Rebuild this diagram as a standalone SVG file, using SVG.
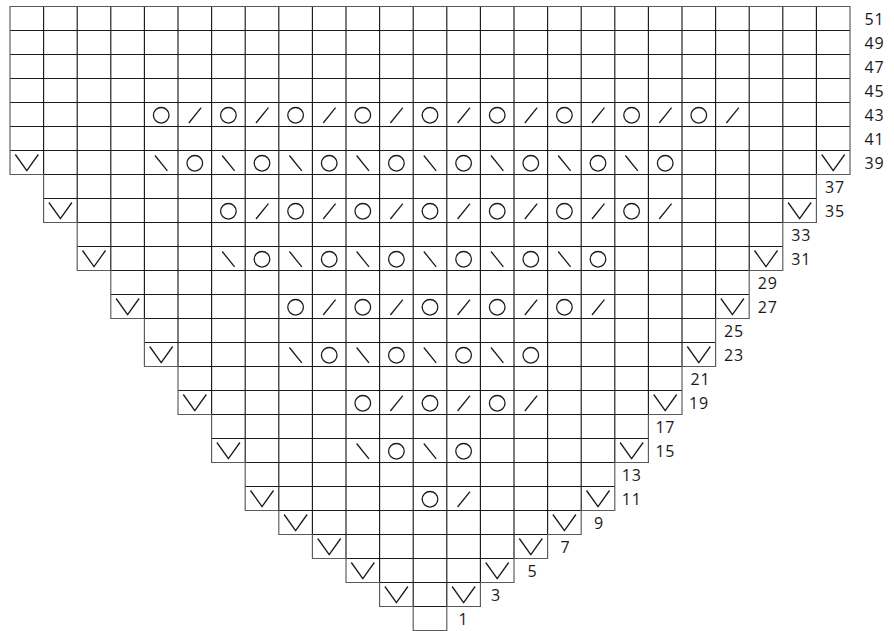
<svg xmlns="http://www.w3.org/2000/svg" width="894" height="631" viewBox="0 0 894 631">
<style>
.inner{fill:none;stroke:#1a1a1a;stroke-width:1.15}
.outer{fill:none;stroke:#5a5a5a;stroke-width:1.15}
.sym{fill:none;stroke:#1a1a1a;stroke-width:1.3}
.lbl{font-family:"Open Sans","Noto Sans",sans-serif;font-size:16px;fill:#1a1a1a;letter-spacing:0.8px}
.c{text-anchor:middle}
</style>
<defs>
<path id="V" class="sym" d="M-11.5 -8 L0 8.2 L11.5 -8"/>
<circle id="O" class="sym" cx="0" cy="0.8" r="7.8"/>
<path id="R" class="sym" d="M-6 8.5 L6.4 -6.8"/>
<path id="L" class="sym" d="M-6.2 -7 L6.2 8.3"/>
</defs>
<rect x="0" y="0" width="894" height="631" fill="#fff"/>
<g id="grid">
<path class="inner" d="M43.6 6.5V174.5M77.2 6.5V222.5M110.8 6.5V270.5M144.4 6.5V318.5M178 6.5V366.5M211.6 6.5V414.5M245.2 6.5V462.5M278.8 6.5V510.5M312.4 6.5V534.5M346 6.5V558.5M379.6 6.5V582.5M413.2 6.5V606.5M446.8 6.5V606.5M480.4 6.5V582.5M514 6.5V558.5M547.6 6.5V534.5M581.2 6.5V510.5M614.8 6.5V462.5M648.4 6.5V414.5M682 6.5V366.5M715.6 6.5V318.5M749.2 6.5V270.5M782.8 6.5V222.5M816.4 6.5V174.5"/>
<path class="inner" d="M10 30.5H850M10 54.5H850M10 78.5H850M10 102.5H850M10 126.5H850M10 150.5H850M43.6 174.5H816.4M43.6 198.5H816.4M77.2 222.5H782.8M77.2 246.5H782.8M110.8 270.5H749.2M110.8 294.5H749.2M144.4 318.5H715.6M144.4 342.5H715.6M178 366.5H682M178 390.5H682M211.6 414.5H648.4M211.6 438.5H648.4M245.2 462.5H614.8M245.2 486.5H614.8M278.8 510.5H581.2M312.4 534.5H547.6M346 558.5H514M379.6 582.5H480.4M413.2 606.5H446.8"/>
<path class="outer" d="M10 6.5H850V174.5H816.4V222.5H782.8V270.5H749.2V318.5H715.6V366.5H682V414.5H648.4V462.5H614.8V510.5H581.2V534.5H547.6V558.5H514V582.5H480.4V606.5H446.8V630.5H413.2V606.5H379.6V582.5H346V558.5H312.4V534.5H278.8V510.5H245.2V462.5H211.6V414.5H178V366.5H144.4V318.5H110.8V270.5H77.2V222.5H43.6V174.5H10Z"/>
</g>
<g id="row43" transform="translate(0 114.5)">
<use href="#O" x="161.2"/><use href="#R" x="194.8"/><use href="#O" x="228.4"/><use href="#R" x="262"/><use href="#O" x="295.6"/><use href="#R" x="329.2"/><use href="#O" x="362.8"/><use href="#R" x="396.4"/><use href="#O" x="430"/><use href="#R" x="463.6"/><use href="#O" x="497.2"/><use href="#R" x="530.8"/><use href="#O" x="564.4"/><use href="#R" x="598"/><use href="#O" x="631.6"/><use href="#R" x="665.2"/><use href="#O" x="698.8"/><use href="#R" x="732.4"/>
</g>
<g id="row39" transform="translate(0 162.5)">
<use href="#V" x="26.8"/><use href="#L" x="161.2"/><use href="#O" x="194.8"/><use href="#L" x="228.4"/><use href="#O" x="262"/><use href="#L" x="295.6"/><use href="#O" x="329.2"/><use href="#L" x="362.8"/><use href="#O" x="396.4"/><use href="#L" x="430"/><use href="#O" x="463.6"/><use href="#L" x="497.2"/><use href="#O" x="530.8"/><use href="#L" x="564.4"/><use href="#O" x="598"/><use href="#L" x="631.6"/><use href="#O" x="665.2"/><use href="#V" x="833.2"/>
</g>
<g id="row35" transform="translate(0 210.5)">
<use href="#V" x="60.4"/><use href="#O" x="228.4"/><use href="#R" x="262"/><use href="#O" x="295.6"/><use href="#R" x="329.2"/><use href="#O" x="362.8"/><use href="#R" x="396.4"/><use href="#O" x="430"/><use href="#R" x="463.6"/><use href="#O" x="497.2"/><use href="#R" x="530.8"/><use href="#O" x="564.4"/><use href="#R" x="598"/><use href="#O" x="631.6"/><use href="#R" x="665.2"/><use href="#V" x="799.6"/>
</g>
<g id="row31" transform="translate(0 258.5)">
<use href="#V" x="94"/><use href="#L" x="228.4"/><use href="#O" x="262"/><use href="#L" x="295.6"/><use href="#O" x="329.2"/><use href="#L" x="362.8"/><use href="#O" x="396.4"/><use href="#L" x="430"/><use href="#O" x="463.6"/><use href="#L" x="497.2"/><use href="#O" x="530.8"/><use href="#L" x="564.4"/><use href="#O" x="598"/><use href="#V" x="766"/>
</g>
<g id="row27" transform="translate(0 306.5)">
<use href="#V" x="127.6"/><use href="#O" x="295.6"/><use href="#R" x="329.2"/><use href="#O" x="362.8"/><use href="#R" x="396.4"/><use href="#O" x="430"/><use href="#R" x="463.6"/><use href="#O" x="497.2"/><use href="#R" x="530.8"/><use href="#O" x="564.4"/><use href="#R" x="598"/><use href="#V" x="732.4"/>
</g>
<g id="row23" transform="translate(0 354.5)">
<use href="#V" x="161.2"/><use href="#L" x="295.6"/><use href="#O" x="329.2"/><use href="#L" x="362.8"/><use href="#O" x="396.4"/><use href="#L" x="430"/><use href="#O" x="463.6"/><use href="#L" x="497.2"/><use href="#O" x="530.8"/><use href="#V" x="698.8"/>
</g>
<g id="row19" transform="translate(0 402.5)">
<use href="#V" x="194.8"/><use href="#O" x="362.8"/><use href="#R" x="396.4"/><use href="#O" x="430"/><use href="#R" x="463.6"/><use href="#O" x="497.2"/><use href="#R" x="530.8"/><use href="#V" x="665.2"/>
</g>
<g id="row15" transform="translate(0 450.5)">
<use href="#V" x="228.4"/><use href="#L" x="362.8"/><use href="#O" x="396.4"/><use href="#L" x="430"/><use href="#O" x="463.6"/><use href="#V" x="631.6"/>
</g>
<g id="row11" transform="translate(0 498.5)">
<use href="#V" x="262"/><use href="#O" x="430"/><use href="#R" x="463.6"/><use href="#V" x="598"/>
</g>
<g id="row9" transform="translate(0 522.5)"><use href="#V" x="295.6"/><use href="#V" x="564.4"/></g>
<g id="row7" transform="translate(0 546.5)"><use href="#V" x="329.2"/><use href="#V" x="530.8"/></g>
<g id="row5" transform="translate(0 570.5)"><use href="#V" x="362.8"/><use href="#V" x="497.2"/></g>
<g id="row3" transform="translate(0 594.5)"><use href="#V" x="396.4"/><use href="#V" x="463.6"/></g>
<g id="labels" class="lbl">
<text x="864.5" y="24.5">51</text>
<text x="864.5" y="48.5">49</text>
<text x="864.5" y="72.5">47</text>
<text x="864.5" y="96.5">45</text>
<text x="864.5" y="120.5">43</text>
<text x="864.5" y="144.5">41</text>
<text x="864.5" y="168.5">39</text>
<text x="825" y="192.5">37</text>
<text x="825" y="216.5">35</text>
<text x="791.3" y="240.5">33</text>
<text x="791.3" y="264.5">31</text>
<text x="757.7" y="288.5">29</text>
<text x="757.7" y="312.5">27</text>
<text x="724.1" y="336.5">25</text>
<text x="724.1" y="360.5">23</text>
<text x="690.5" y="384.5">21</text>
<text x="689" y="408.5">19</text>
<text x="655.4" y="432.5">17</text>
<text x="655.4" y="456.5">15</text>
<text x="621.8" y="480.5">13</text>
<text x="621.8" y="504.5">11</text>
<text class="c" x="599" y="528.5">9</text>
<text class="c" x="565.5" y="552.5">7</text>
<text class="c" x="532.5" y="576.5">5</text>
<text class="c" x="496" y="600.5">3</text>
<text class="c" x="463.5" y="624.5">1</text>
</g>
</svg>
